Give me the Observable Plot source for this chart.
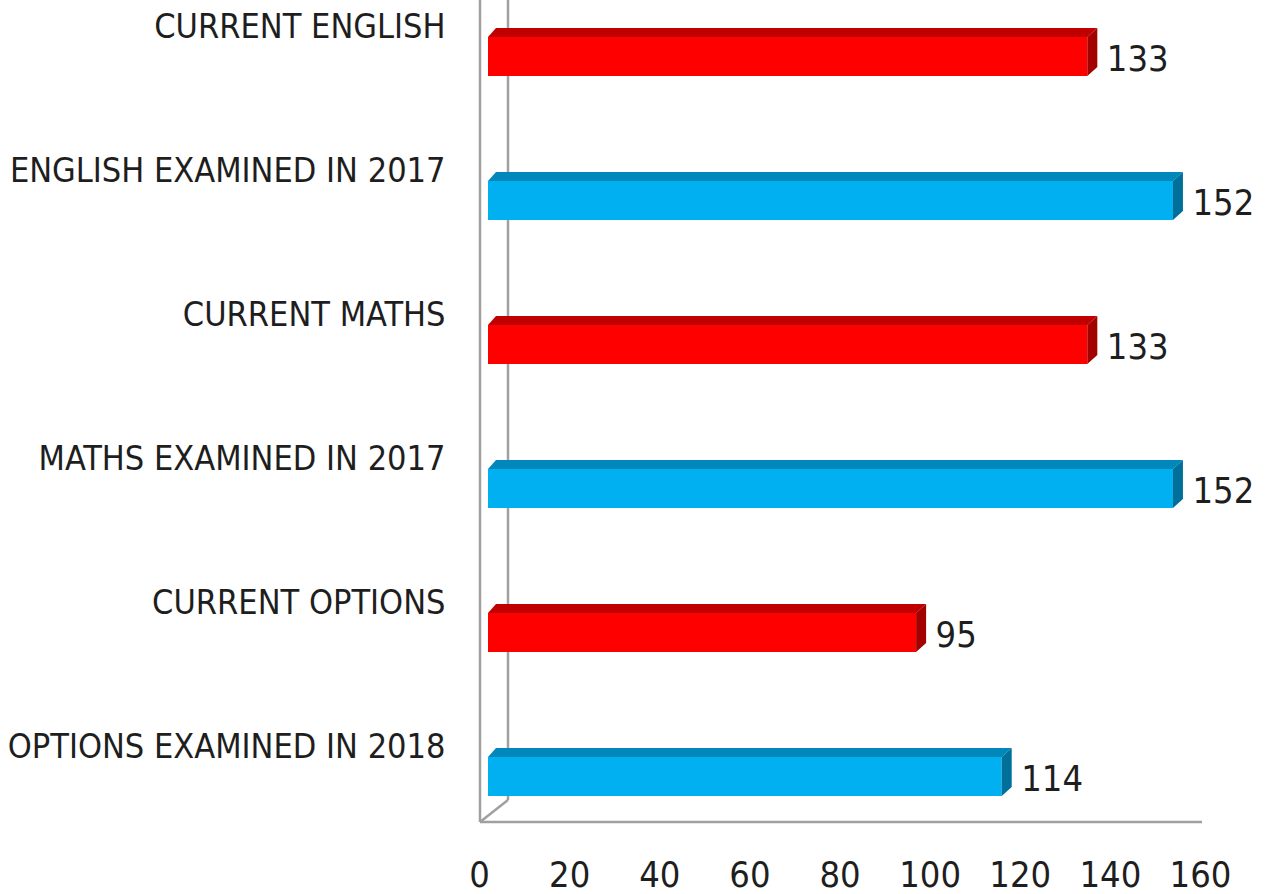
<!DOCTYPE html>
<html><head><meta charset="utf-8">
<script src="https://cdn.jsdelivr.net/npm/d3@7"></script>
<script src="https://cdn.jsdelivr.net/npm/@observablehq/plot@0.6"></script>
<style>body{margin:0;background:#fff}</style>
</head><body><div id="chart"></div>
<script>
const categories = ["CURRENT ENGLISH","ENGLISH EXAMINED IN 2017","CURRENT MATHS","MATHS EXAMINED IN 2017","CURRENT OPTIONS","OPTIONS EXAMINED IN 2018"];
const values = [133, 152, 133, 152, 95, 114];
const groups = ["current","examined","current","examined","current","examined"];
const xTicks = [0, 20, 40, 60, 80, 100, 120, 140, 160];

const palette = {
  current:  {front: "#FF0000", top: "#C00000", side: "#A30000"},
  examined: {front: "#00B0F0", top: "#0088BA", side: "#006F9A"}
};

const data = categories.map((c, i) => ({category: c, value: values[i], group: groups[i]}));

const FONT = '"Liberation Sans Narrow","DejaVu Sans Condensed","Liberation Sans",Arial,sans-serif';
const TEXT = "#1e1e1e";
const BAR_DX = 5, DEPTH_L = 8, DEPTH_R = 10, DEPTH_Y = 9;
const SVGNS = "http://www.w3.org/2000/svg";

function poly(g, pts, fill) {
  const p = document.createElementNS(SVGNS, "polygon");
  p.setAttribute("points", pts.map(d => d.join(",")).join(" "));
  p.setAttribute("fill", fill);
  g.appendChild(p);
}

function bars3d(subset) {
  return function(index, scales, vals, dims, context, next) {
    const g = next(index, scales, vals, dims, context);
    const rects = Array.from(g.querySelectorAll("rect"));
    rects.forEach((r, k) => {
      const d = subset[index[k]];
      const c = palette[d.group];
      const x = +r.getAttribute("x"), y = +r.getAttribute("y");
      const w = +r.getAttribute("width"), h = +r.getAttribute("height");
      const x1 = x + w, yb = y + h;
      poly(g, [[x, y], [x + DEPTH_L, y - DEPTH_Y], [x1 + DEPTH_R, y - DEPTH_Y], [x1, y]], c.top);
      poly(g, [[x1, y], [x1 + DEPTH_R, y - DEPTH_Y], [x1 + DEPTH_R, yb - DEPTH_Y], [x1, yb]], c.side);
    });
    return g;
  };
}

function frameLines(index, scales, vals, dims) {
  const g = d3.create("svg:g").attr("stroke", "#A0A0A0").attr("stroke-width", 2.5).attr("fill", "none");
  const x0 = scales.x(0);
  const xEnd = scales.x(160);
  const bottom = dims.height - dims.marginBottom;
  const top = dims.marginTop;
  g.append("line").attr("x1", x0 - 3).attr("x2", x0 - 3).attr("y1", top).attr("y2", bottom);
  g.append("line").attr("x1", x0 + 25).attr("x2", x0 + 25).attr("y1", top).attr("y2", bottom - 22);
  g.append("line").attr("x1", x0 - 3).attr("x2", x0 + 25).attr("y1", bottom).attr("y2", bottom - 22);
  g.append("line").attr("x1", x0 - 3).attr("x2", xEnd - 2).attr("y1", bottom).attr("y2", bottom);
  return g.node();
}

const current = data.filter(d => d.group === "current");
const examined = data.filter(d => d.group === "examined");

const chart = Plot.plot({
  width: 1272,
  height: 894,
  marginLeft: 483,
  marginRight: 68,
  marginTop: 0,
  marginBottom: 72,
  style: {fontFamily: FONT, fontSize: "36px", color: TEXT, background: "#fff"},
  x: {domain: [0, 160], label: null},
  y: {domain: categories, range: [-17.25, 849.75], paddingInner: 0.73, paddingOuter: 0.365, label: null},
  marks: [
    frameLines,
    Plot.barX(current, {x: "value", y: "category", fill: palette.current.front, dx: BAR_DX, render: bars3d(current)}),
    Plot.barX(examined, {x: "value", y: "category", fill: palette.examined.front, dx: BAR_DX, render: bars3d(examined)}),
    Plot.text(data, {x: "value", y: "category", text: d => String(d.value), textAnchor: "start", dx: 24, dy: 2, fontSize: 36, fill: TEXT}),
    Plot.axisY({tickSize: 0, tickPadding: 38, dy: -30, fontSize: 34, label: null, fill: TEXT}),
    Plot.axisX({ticks: xTicks, tickSize: 0, tickPadding: 39, dx: -4, fontSize: 36, label: null, fill: TEXT, tickFormat: d => String(d)})
  ]
});
document.getElementById("chart").appendChild(chart);
</script>
</body></html>
